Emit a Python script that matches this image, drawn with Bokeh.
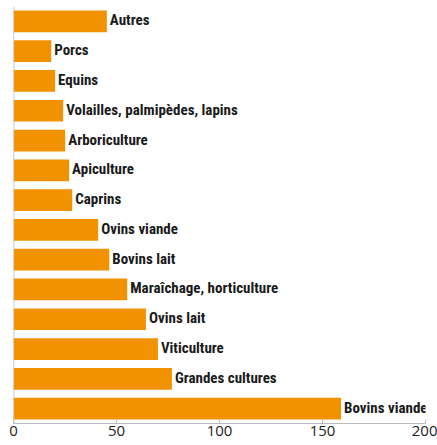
from bokeh.plotting import figure
from bokeh.models import ColumnDataSource, Span, FixedTicker, Range1d, FactorRange
from bokeh.embed import file_html
from bokeh.resources import INLINE
from bokeh.core.properties import value

categories = ["Autres", "Porcs", "Equins", "Volailles, palmipèdes, lapins", "Arboriculture",
              "Apiculture", "Caprins", "Ovins viande", "Bovins lait", "Maraîchage, horticulture",
              "Ovins lait", "Viticulture", "Grandes cultures", "Bovins viande"]
values = [45.3, 18.3, 20.2, 24.1, 25.1, 27, 28.5, 41.1, 46.5, 55.2, 64.3, 70.1, 76.9, 159]
x_ticks = [0, 50, 100, 150, 200]

src = ColumnDataSource(dict(cat=categories, val=values))

p = figure(width=437, height=445, output_backend="svg", toolbar_location=None,
           y_range=FactorRange(factors=list(reversed(categories)), range_padding=0),
           x_range=Range1d(0, 200),
           min_border_left=13, min_border_right=12, min_border_top=6, min_border_bottom=22)

p.hbar(y="cat", right="val", left=0, height=0.73, source=src, color="#F39200", line_color=None)
p.text(x="val", y="cat", text="cat", source=src, x_offset=3, y_offset=-1, text_baseline="middle",
       text_align="left", text_font=value("Roboto Condensed"), text_font_style="bold",
       text_font_size="15px", text_color="#1a1a1a")

p.add_layout(Span(location=0, dimension="height", line_color="#bbbbbb", line_width=1.5))

p.yaxis.visible = False
p.xaxis.ticker = FixedTicker(ticks=x_ticks)
p.xaxis.axis_line_color = "#bbbbbb"
p.xaxis.major_tick_line_color = "#bbbbbb"
p.xaxis.major_tick_in = 4
p.xaxis.major_tick_out = 0
p.xaxis.minor_tick_line_color = None
p.xaxis.major_label_standoff = 2
p.xaxis.major_label_text_font = "Open Sans"
p.xaxis.major_label_text_font_size = "15px"
p.xaxis.major_label_text_color = "#222222"
p.xgrid.visible = False
p.ygrid.visible = False
p.outline_line_color = None

open("out.html", "w").write(file_html(p, INLINE))
